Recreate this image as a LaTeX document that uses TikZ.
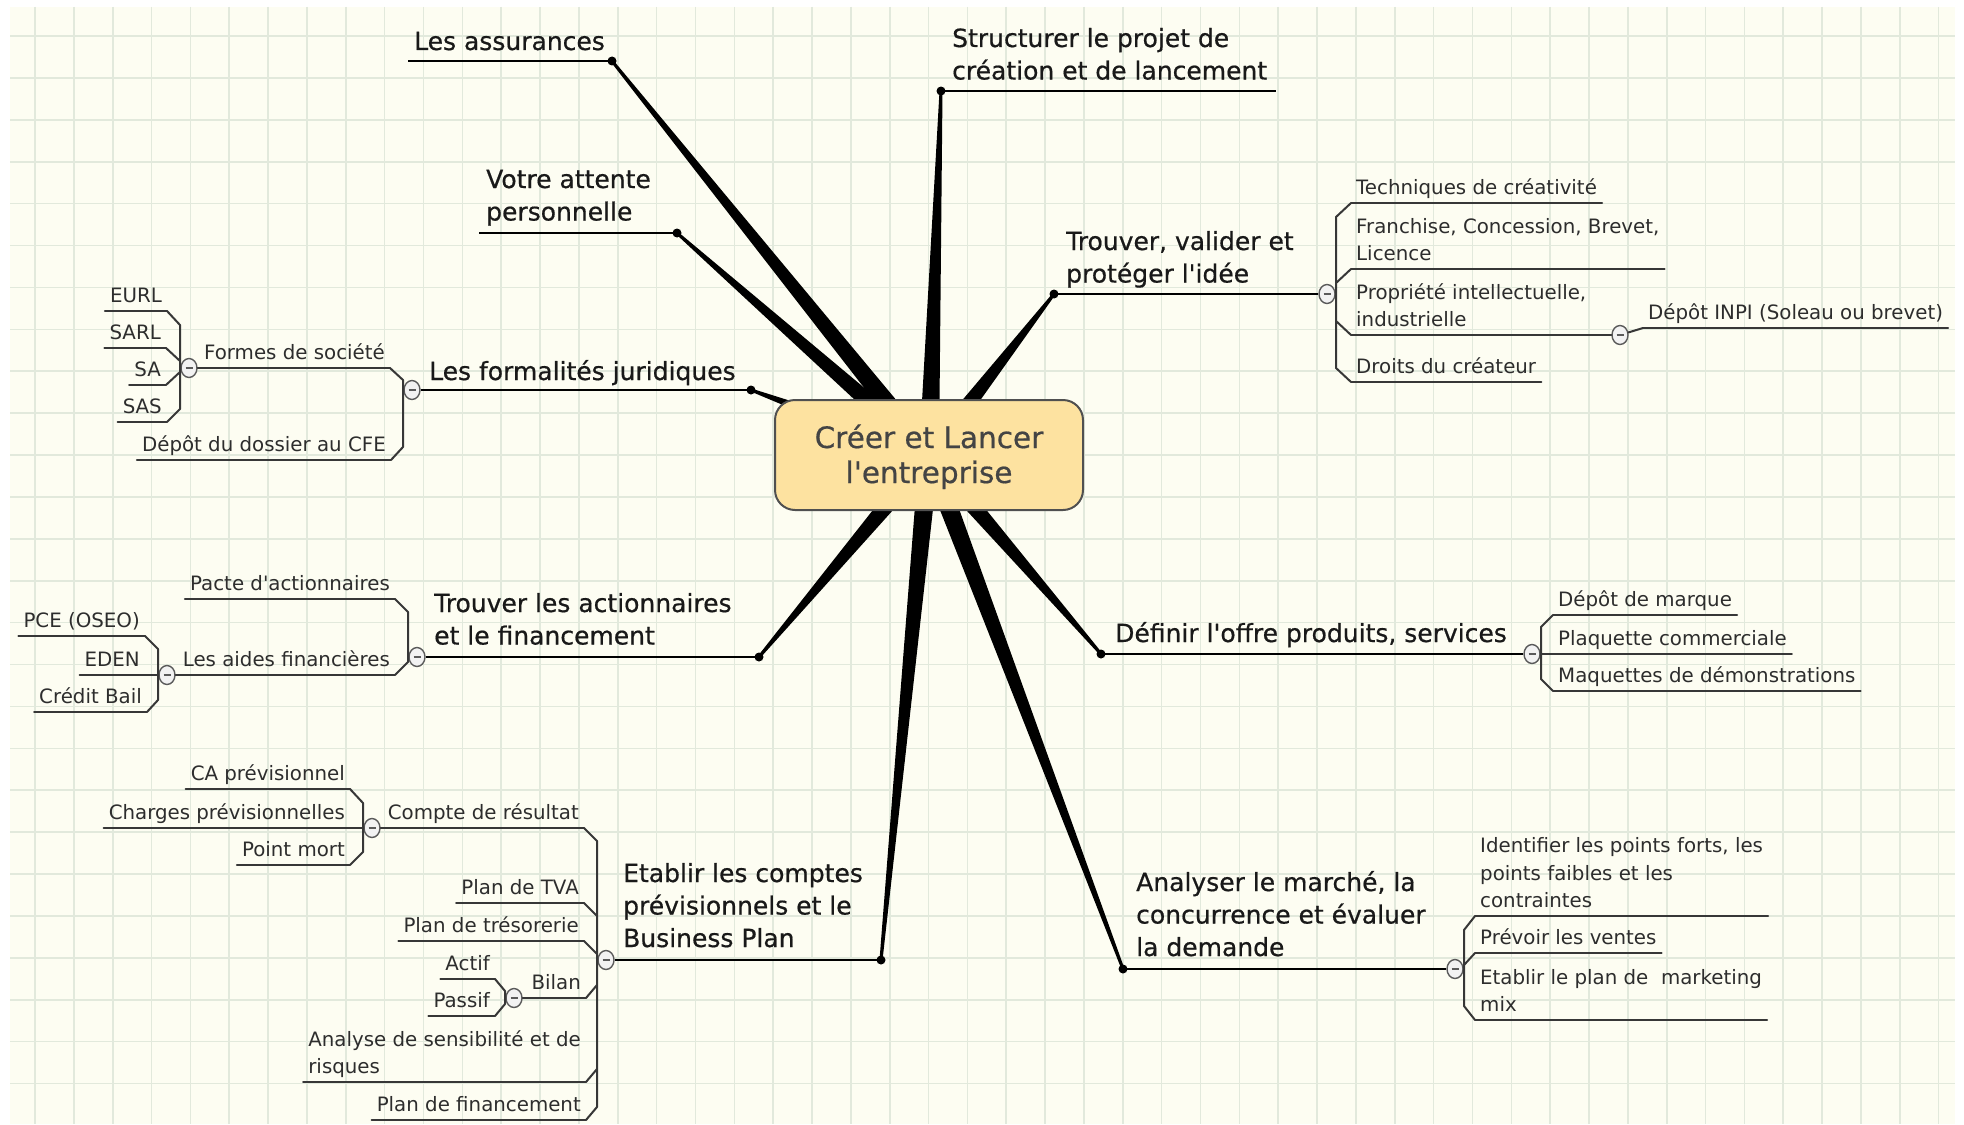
\documentclass[tikz,border=0pt]{standalone}
\usepackage{fontspec}
\setmainfont{DejaVu Sans}
\newfontfamily\heavyfam{DejaVu Sans}[FakeBold=0.6]
\usetikzlibrary{calc,shapes.geometric}
\definecolor{bgcream}{RGB}{253,253,242}
\definecolor{gridc}{RGB}{226,233,220}
\definecolor{rootfill}{RGB}{253,226,160}
\definecolor{rootdraw}{RGB}{80,80,80}
\definecolor{roottxt}{RGB}{68,68,68}
\definecolor{maintxt}{RGB}{25,25,25}
\definecolor{subtxt}{RGB}{45,45,45}
\definecolor{sublc}{RGB}{55,55,55}
\definecolor{btndraw}{RGB}{90,90,90}
\definecolor{btnfill}{RGB}{242,242,242}
\newcommand\fMain{\heavyfam\fontsize{25}{32.5}\selectfont}
\newcommand\fSub{\fontsize{19.8}{27.5}\selectfont}
\newcommand\fRoot{\heavyfam\fontsize{29.5}{35}\selectfont}
\newcommand\tabL[1]{\begin{tabular}[t]{@{}l@{}}#1\end{tabular}}
\newcommand\tabR[1]{\begin{tabular}[t]{@{}r@{}}#1\end{tabular}}
\newcommand\tabC[1]{\begin{tabular}[t]{@{}c@{}}#1\end{tabular}}
\newcommand\taper[2]{\fill[black] ($(#1)!1.5pt!90:(#2)$) -- ($(#2)!10pt!-90:(#1)$) -- ($(#2)!10pt!90:(#1)$) -- ($(#1)!1.5pt!-90:(#2)$) -- cycle;}
\pgfdeclarelayer{bg}
\pgfdeclarelayer{edges}
\pgfsetlayers{bg,edges,main}
\begin{document}
\begin{tikzpicture}[x=1pt,y=-1pt,
  gridline/.style={draw=gridc, line width=1.6pt},
  subline/.style={draw=sublc, line width=2pt, line cap=round, line join=round},
  sub/.style={font=\fSub, text=subtxt, inner xsep=5pt, inner ysep=0pt,
    append after command={(\tikzlastnode.south west) edge[subline] (\tikzlastnode.south east)}},
  topic/.style={font=\fMain, text=maintxt, inner sep=0pt, anchor=base west},
  mainline/.style={draw=black, line width=2.6pt},
  btn/.style={ellipse, draw=btndraw, fill=btnfill, line width=1.4pt, minimum width=16pt, minimum height=19pt, inner sep=0pt,
    path picture={\draw[line width=1.8pt, btndraw] ([xshift=-3.5pt]path picture bounding box.center) -- ([xshift=3.5pt]path picture bounding box.center);}},
  rootbox/.style={draw=rootdraw, fill=rootfill, line width=2pt, rounded corners=20pt, minimum width=308pt, minimum height=110pt, inner sep=0pt},
  roottext/.style={font=\fRoot, text=roottxt, inner sep=0pt, anchor=base}
]
\useasboundingbox (0,0) rectangle (1964,1124);
\begin{pgfonlayer}{bg}
\fill[white] (0,0) rectangle (1964,1124);
\fill[bgcream] (10,7) rectangle (1955,1124);
\foreach \i in {0,...,49} {\draw[gridline] ({35+\i*38.85},7) -- ({35+\i*38.85},1124);}
\foreach \j in {0,...,25} {\draw[gridline] (10,{36+\j*41.9}) -- (1955,{36+\j*41.9});}
\end{pgfonlayer}

% root
\node[rootbox] (root) at (929,455) {};
\node[roottext] (rootT) at (929,448) {\tabC{Créer et Lancer\\l\textquotesingle entreprise}};

% dots
\coordinate (dA) at (612,61);
\coordinate (dS) at (941,91);
\coordinate (dV) at (677,233);
\coordinate (dT) at (1054,294);
\coordinate (dF) at (751,390);
\coordinate (dAc) at (759,657);
\coordinate (dD) at (1101,654);
\coordinate (dE) at (881,960);
\coordinate (dAn) at (1123,969);

\begin{pgfonlayer}{edges}
\taper{dA}{root.center}
\taper{dS}{root.center}
\taper{dV}{root.center}
\taper{dT}{root.center}
\taper{dF}{root.center}
\taper{dAc}{root.center}
\taper{dD}{root.center}
\taper{dE}{root.center}
\taper{dAn}{root.center}
\end{pgfonlayer}

% buttons
\node[btn] (cTV) at (1327,294) {};
\node[btn] (cProp) at (1620,335) {};
\node[btn] (cDef) at (1532,654) {};
\node[btn] (cAna) at (1455,969) {};
\node[btn] (cFormal) at (412,390) {};
\node[btn] (cFormes) at (189,368) {};
\node[btn] (cAct) at (417,657) {};
\node[btn] (cAides) at (167,675) {};
\node[btn] (cEtab) at (606,960) {};
\node[btn] (cCompte) at (372,828) {};
\node[btn] (cBilan) at (514,998) {};

% main topics
\node[topic] (assur) at (414,50) {\tabL{Les assurances}};
\node[topic] (struct) at (952,47) {\tabL{Structurer le projet de\\création et de lancement}};
\node[topic] (votre) at (486,188) {\tabL{Votre attente\\personnelle}};
\node[topic] (trouv) at (1066,250) {\tabL{Trouver, valider et\\protéger l\textquotesingle idée}};
\node[topic] (formal) at (429,380) {\tabL{Les formalités juridiques}};
\node[topic] (action) at (434,612) {\tabL{Trouver les actionnaires\\et le financement}};
\node[topic] (defin) at (1115,642) {\tabL{Définir l\textquotesingle offre produits, services}};
\node[topic] (etab) at (623,882) {\tabL{Etablir les comptes\\prévisionnels et le\\Business Plan}};
\node[topic] (analy) at (1136,891) {\tabL{Analyser le marché, la\\concurrence et évaluer\\la demande}};

\draw[mainline] ($(assur.west |- dA)+(-6,0)$) -- (dA);
\draw[mainline] (dS) -- ($(struct.east |- dS)+(9,0)$);
\draw[mainline] ($(votre.west |- dV)+(-7,0)$) -- (dV);
\draw[mainline] (dT) -- (cTV);
\draw[mainline] (cFormal) -- (dF);
\draw[mainline] (cAct) -- (dAc);
\draw[mainline] (dD) -- (cDef);
\draw[mainline] (cEtab) -- (dE);
\draw[mainline] (dAn) -- (cAna);

\foreach \d in {dA,dS,dV,dT,dF,dAc,dD,dE,dAn} {\fill[black] (\d) circle[radius=4.5pt];}

% right side children: Trouver, valider
\node[sub, anchor=south west] (tech) at (1351,203) {\tabL{Techniques de créativité}};
\node[sub, anchor=south west] (fran) at (1351,269) {\tabL{Franchise, Concession, Brevet,\\Licence}};
\node[sub, anchor=south west] (prop) at (1351,335) {\tabL{Propriété intellectuelle,\\industrielle}};
\node[sub, anchor=south west] (droit) at (1351,382) {\tabL{Droits du créateur}};
\node[sub, anchor=south west] (inpi) at (1643,328) {\tabL{Dépôt INPI (Soleau ou brevet)}};
\draw[subline] (tech.south west) -- (1336,217) -- (1336,368) -- (droit.south west);
\draw[subline] (fran.south west) -- (1336,283);
\draw[subline] (prop.south west) -- (1336,321);
\draw[subline] (prop.south east) -- (cProp);
\draw[subline] (cProp) -- (inpi.south west);

% Definir
\node[sub, anchor=south west] (marque) at (1553,615) {\tabL{Dépôt de marque}};
\node[sub, anchor=south west] (plaq) at (1553,654) {\tabL{Plaquette commerciale}};
\node[sub, anchor=south west] (maq) at (1553,691) {\tabL{Maquettes de démonstrations}};
\draw[subline] (marque.south west) -- (1541,627) -- (1541,679) -- (maq.south west);
\draw[subline] (cDef) -- (plaq.south west);

% Analyser
\node[sub, anchor=south west] (ident) at (1475,916) {\tabL{Identifier les points forts, les\\points faibles et les\\contraintes}};
\node[sub, anchor=south west] (prev) at (1475,953) {\tabL{Prévoir les ventes}};
\node[sub, anchor=south west] (etabm) at (1475,1020) {\tabL{Etablir le plan de~ marketing\\mix}};
\draw[subline] (ident.south west) -- (1464,930) -- (1464,1006) -- (etabm.south west);
\draw[subline] (prev.south west) -- (1464,965);

% Formalites
\node[sub, anchor=south east] (formes) at (390,368) {\tabR{Formes de société}};
\node[sub, anchor=south east] (cfe) at (391,460) {\tabR{Dépôt du dossier au CFE}};
\draw[subline] (formes.south east) -- (403,380) -- (403,447) -- (cfe.south east);
\draw[subline] (cFormes) -- (formes.south west);
\node[sub, anchor=south east] (eurl) at (167,311) {\tabR{EURL}};
\node[sub, anchor=south east] (sarl) at (166,348) {\tabR{SARL}};
\node[sub, anchor=south east] (sa) at (166,385) {\tabR{SA}};
\node[sub, anchor=south east] (sas) at (167,422) {\tabR{SAS}};
\draw[subline] (eurl.south east) -- (180,325) -- (180,409) -- (sas.south east);
\draw[subline] (sarl.south east) -- (180,361);
\draw[subline] (sa.south east) -- (180,372);

% Actionnaires
\node[sub, anchor=south east] (pacte) at (395,599) {\tabR{Pacte d\textquotesingle actionnaires}};
\node[sub, anchor=south east] (aides) at (395,675) {\tabR{Les aides financières}};
\draw[subline] (pacte.south east) -- (408,612) -- (408,662) -- (aides.south east);
\draw[subline] (cAides) -- (aides.south west);
\node[sub, anchor=south east] (pce) at (145,636) {\tabR{PCE (OSEO)}};
\node[sub, anchor=south east] (eden) at (145,675) {\tabR{EDEN}};
\node[sub, anchor=south east] (credit) at (147,712) {\tabR{Crédit Bail}};
\draw[subline] (pce.south east) -- (158,649) -- (158,700) -- (credit.south east);
\draw[subline] (eden.south east) -- (cAides);

% Etablir
\node[sub, anchor=south east] (compte) at (584,828) {\tabR{Compte de résultat}};
\node[sub, anchor=south east] (tva) at (584,903) {\tabR{Plan de TVA}};
\node[sub, anchor=south east] (treso) at (584,941) {\tabR{Plan de trésorerie}};
\node[sub, anchor=south east] (bilan) at (586,998) {\tabR{Bilan}};
\node[sub, anchor=south east] (analyse) at (586,1082) {\tabL{Analyse de sensibilité et de\\risques}};
\node[sub, anchor=south east] (pfin) at (586,1120) {\tabR{Plan de financement}};
\draw[subline] (compte.south east) -- (597,841) -- (597,1107) -- (pfin.south east);
\draw[subline] (tva.south east) -- (597,916);
\draw[subline] (treso.south east) -- (597,954);
\draw[subline] (bilan.south east) -- (597,985);
\draw[subline] (analyse.south east) -- (597,1069);
\draw[subline] (cCompte) -- (compte.south west);
\draw[subline] (cBilan) -- (bilan.south west);
\node[sub, anchor=south east] (ca) at (350,789) {\tabR{CA prévisionnel}};
\node[sub, anchor=south east] (charges) at (350,828) {\tabR{Charges prévisionnelles}};
\node[sub, anchor=south east] (pmort) at (350,865) {\tabR{Point mort}};
\draw[subline] (ca.south east) -- (363,803) -- (363,852) -- (pmort.south east);
\draw[subline] (charges.south east) -- (cCompte);
\node[sub, anchor=south east] (actif) at (495,979) {\tabR{Actif}};
\node[sub, anchor=south east] (passif) at (495,1016) {\tabR{Passif}};
\draw[subline] (actif.south east) -- (505,991) -- (505,1004) -- (passif.south east);
\end{tikzpicture}
\end{document}
